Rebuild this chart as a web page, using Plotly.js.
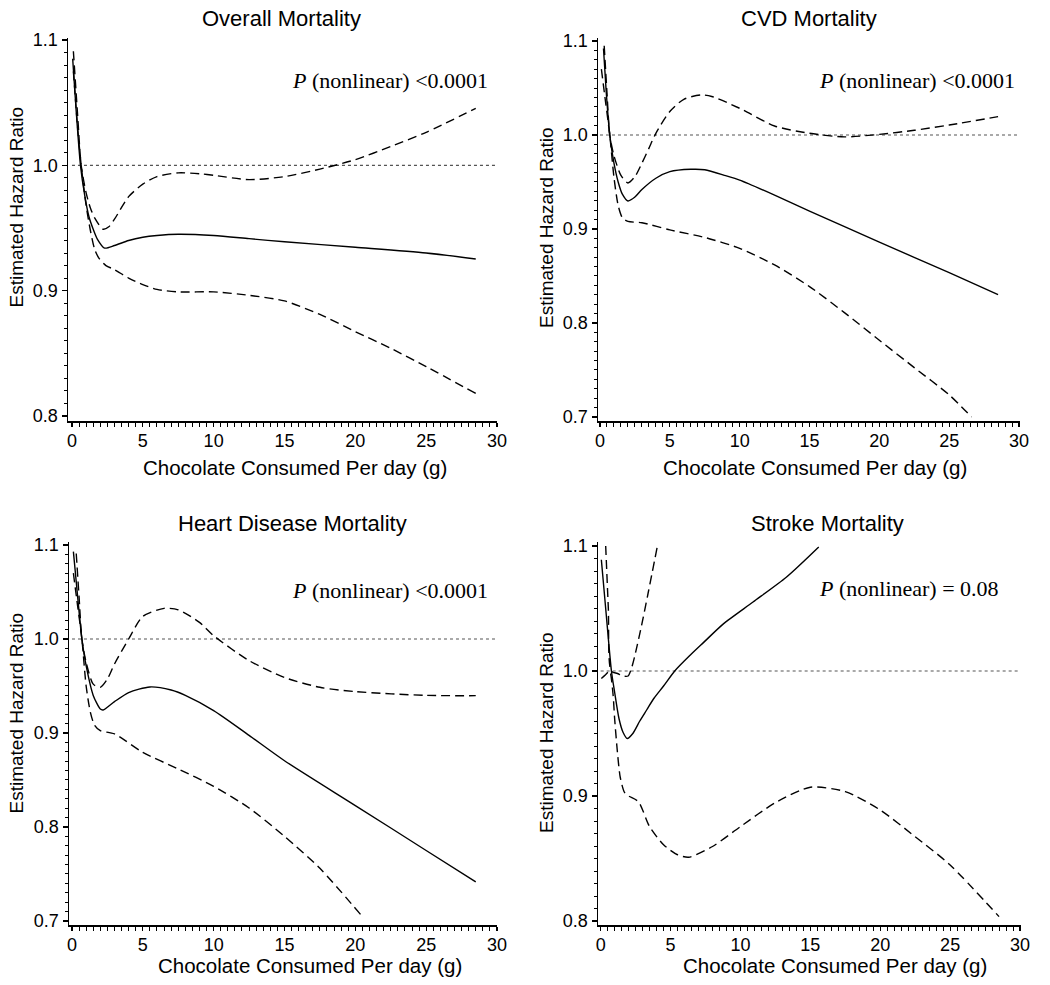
<!DOCTYPE html>
<html>
<head>
<meta charset="utf-8">
<script src="https://cdn.plot.ly/plotly-3.0.1.min.js"></script>
<style>
html,body{margin:0;padding:0;background:#fff;}
#chart{width:1050px;height:985px;}
</style>
</head>
<body>
<div id="chart"></div>
<script>
// ---------- Data ----------
const panelTitles = ["Overall Mortality", "CVD Mortality", "Heart Disease Mortality", "Stroke Mortality"];
const pValueLabels = ["<i>P</i> (nonlinear) &lt;0.0001", "<i>P</i> (nonlinear) &lt;0.0001", "<i>P</i> (nonlinear) &lt;0.0001", "<i>P</i> (nonlinear) = 0.08"];
const xAxisLabel = "Chocolate Consumed Per day (g)";
const yAxisLabel = "Estimated Hazard Ratio";
const xTickVals = [0, 5, 10, 15, 20, 25, 30];
const refX = [0, 30];
const refY = [1, 1];

// Overall mortality
const overallX = [0.05, 0.3, 0.6, 0.9, 1.2, 1.5, 1.8, 2.3, 3, 4, 5, 6, 7.5, 10, 12.5, 15, 20, 25, 28.5];
const overallHR = [1.085, 1.043, 1.0, 0.976, 0.959, 0.949, 0.941, 0.934, 0.936, 0.940, 0.9426, 0.944, 0.945, 0.944, 0.9415, 0.939, 0.9346, 0.930, 0.9253];
const overallUpperX = [0.1, 0.4, 0.65, 1.0, 1.3, 1.6, 2.2, 2.6, 3, 4, 5, 6, 7.5, 9, 10, 12.5, 15, 17.5, 20, 22.5, 25, 28.5];
const overallUpper = [1.091, 1.04, 1.0, 0.978, 0.966, 0.958, 0.949, 0.951, 0.957, 0.975, 0.985, 0.991, 0.994, 0.9933, 0.992, 0.9886, 0.991, 0.997, 1.0045, 1.015, 1.0263, 1.0455];
const overallLowerX = [0.1, 0.4, 0.65, 1.0, 1.3, 1.6, 1.9, 2.4, 3, 4, 5, 6, 7.5, 10, 12.5, 15, 17.5, 20, 22.5, 25, 28.5];
const overallLower = [1.075, 1.03, 1.0, 0.968, 0.948, 0.933, 0.926, 0.920, 0.9168, 0.910, 0.9048, 0.901, 0.899, 0.899, 0.8963, 0.8918, 0.881, 0.8673, 0.854, 0.8394, 0.818];

// CVD mortality
const cvdX = [0.25, 0.45, 0.7, 1.0, 1.3, 1.6, 2.0, 2.5, 3, 4, 5, 6.5, 7.5, 9, 10, 12.5, 15, 20, 25, 28.5];
const cvdHR = [1.092, 1.045, 1.0, 0.970, 0.950, 0.937, 0.9298, 0.934, 0.942, 0.954, 0.961, 0.9635, 0.963, 0.9567, 0.952, 0.936, 0.919, 0.886, 0.8535, 0.8301];
const cvdUpperX = [0.3, 0.5, 0.7, 1.0, 1.5, 2.0, 2.5, 3, 3.5, 4, 5, 6, 7.2, 8, 10, 12.5, 15, 17.5, 20, 22.5, 25, 28.5];
const cvdUpper = [1.095, 1.045, 1.0, 0.978, 0.957, 0.949, 0.9557, 0.970, 0.9858, 1.0018, 1.025, 1.038, 1.0426, 1.041, 1.0284, 1.0096, 1.0018, 0.998, 1.0007, 1.005, 1.0106, 1.0195];
const cvdLowerX = [0.1, 0.4, 0.7, 1.0, 1.3, 1.6, 2.0, 3, 5, 7.5, 10, 12.5, 15, 17.5, 20, 22.5, 25, 26.6];
const cvdLower = [1.07, 1.035, 1.0, 0.955, 0.925, 0.912, 0.908, 0.9067, 0.899, 0.891, 0.8794, 0.8617, 0.8387, 0.811, 0.7816, 0.7525, 0.7235, 0.70];

// Heart disease mortality
const heartX = [0.1, 0.4, 0.7, 1.0, 1.5, 2.0, 2.2, 3, 4, 5.5, 7, 8, 10, 12.5, 15, 20, 25, 28.5];
const heartHR = [1.093, 1.045, 1.0, 0.9716, 0.940, 0.9255, 0.9245, 0.9333, 0.943, 0.949, 0.9457, 0.940, 0.9238, 0.8975, 0.8705, 0.8228, 0.775, 0.7415];
const heartUpperX = [0.3, 0.5, 0.7, 1.0, 1.5, 2.0, 2.5, 3, 4, 5, 6.5, 7.5, 9, 10, 12.5, 15, 17.5, 20, 25, 28.5];
const heartUpper = [1.091, 1.045, 1.0, 0.975, 0.952, 0.9486, 0.9574, 0.9734, 1.0, 1.024, 1.0326, 1.031, 1.0177, 1.0035, 0.977, 0.959, 0.9486, 0.944, 0.940, 0.9397];
const heartLowerX = [0.1, 0.4, 0.7, 1.0, 1.3, 1.6, 2.0, 3, 5, 7.5, 10, 12.5, 15, 17.5, 20.5];
const heartLower = [1.07, 1.035, 1.0, 0.95, 0.922, 0.908, 0.9025, 0.899, 0.8794, 0.8617, 0.8433, 0.8202, 0.790, 0.756, 0.7046];

// Stroke mortality
const strokeX = [0.05, 0.4, 0.77, 1.0, 1.31, 1.6, 1.9, 2.3, 2.8, 3.3, 3.8, 4.5, 5.3, 6.4, 7.35, 8.8, 10.9, 13.3, 15.6];
const strokeHR = [1.089, 1.045, 1.0, 0.983, 0.962, 0.951, 0.946, 0.950, 0.960, 0.969, 0.978, 0.988, 1.0, 1.0126, 1.0227, 1.0379, 1.0552, 1.0752, 1.0992];
const strokeUpperX = [0.36, 0.55, 0.75, 1.2, 1.6, 1.96, 2.2, 2.43, 2.9, 3.39, 4.06];
const strokeUpper = [1.1, 1.05, 1.0, 0.998, 0.996, 0.996, 1.002, 1.0115, 1.035, 1.062, 1.1];
const strokeLowerX = [0.05, 0.35, 0.64, 0.88, 1.0, 1.2, 1.4, 1.7, 2.0, 2.7, 3.5, 4.5, 5.5, 6.3, 8, 10, 12.5, 15, 17.5, 20, 22.5, 25, 28.5];
const strokeLower = [0.994, 0.997, 1.0, 0.982, 0.962, 0.935, 0.915, 0.903, 0.900, 0.8955, 0.8755, 0.861, 0.853, 0.851, 0.8596, 0.8755, 0.8947, 0.907, 0.9035, 0.8888, 0.8674, 0.8448, 0.8035];

// ---------- Build ----------
const W = 1050, H = 985;
const px = v => v / W;
const py = v => 1 - v / H;

const panels = [
  {est:[overallX, overallHR], up:[overallUpperX, overallUpper], lo:[overallLowerX, overallLower]},
  {est:[cvdX, cvdHR], up:[cvdUpperX, cvdUpper], lo:[cvdLowerX, cvdLower]},
  {est:[heartX, heartHR], up:[heartUpperX, heartUpper], lo:[heartLowerX, heartLower]},
  {est:[strokeX, strokeHR], up:[strokeUpperX, strokeUpper], lo:[strokeLowerX, strokeLower]}
];

// plot geometry (pixels) for each panel
const geom = [
  {l:68, r:497, t:38, b:421, xr:[-0.28, 30.0], yr:[0.796, 1.1016]},
  {l:598, r:1020, t:38, b:421, xr:[-0.143, 30.07], yr:[0.6957, 1.1032]},
  {l:69, r:497, t:542, b:925, xr:[-0.21, 30.0], yr:[0.6957, 1.1032]},
  {l:598, r:1021, t:542, b:925, xr:[-0.19, 30.07], yr:[0.7968, 1.1032]}
];

const tickFont = {family: "Liberation Sans, Arial, sans-serif", size: 18, color: "#000"};
const traces = [];
const layout = {
  width: W, height: H,
  margin: {l:0, r:0, t:0, b:0},
  paper_bgcolor: "#fff", plot_bgcolor: "#fff",
  showlegend: false,
  annotations: []
};

const solidLine = {color: "#000", width: 1.4, shape: "spline", smoothing: 0.7};
const dashLine = {color: "#000", width: 1.4, dash: "9px,5px", shape: "spline", smoothing: 0.7};

panels.forEach((p, i) => {
  const n = i + 1;
  const xa = n === 1 ? "x" : "x" + n;
  const ya = n === 1 ? "y" : "y" + n;
  traces.push({x: refX, y: refY, xaxis: xa, yaxis: ya, mode: "lines", line: {color: "#555", width: 1.2, dash: "dot"}, hoverinfo: "skip"});
  traces.push({x: p.up[0], y: p.up[1], xaxis: xa, yaxis: ya, mode: "lines", line: dashLine});
  traces.push({x: p.lo[0], y: p.lo[1], xaxis: xa, yaxis: ya, mode: "lines", line: dashLine});
  traces.push({x: p.est[0], y: p.est[1], xaxis: xa, yaxis: ya, mode: "lines", line: solidLine});

  const g = geom[i];
  const xKey = n === 1 ? "xaxis" : "xaxis" + n;
  const yKey = n === 1 ? "yaxis" : "yaxis" + n;
  layout[xKey] = {
    domain: [px(g.l), px(g.r)], anchor: ya, range: g.xr,
    showgrid: false, zeroline: false, showline: true, linecolor: "#000", linewidth: 1.5,
    tickmode: "array", tickvals: xTickVals, ticks: "outside", ticklen: 4, tickwidth: 1.2, tickcolor: "#000",
    tickfont: tickFont, ticklabelstandoff: -1,
    minor: {dtick: 0.5, tick0: 0, ticks: "outside", ticklen: 4, tickwidth: 1, tickcolor: "#000", showgrid: false}
  };
  layout[yKey] = {
    domain: [1 - g.b / H, 1 - g.t / H], anchor: xa, range: g.yr,
    showgrid: false, zeroline: false, showline: true, linecolor: "#000", linewidth: 1.5,
    dtick: 0.1, tick0: 0, tickformat: ".1f", ticks: "outside", ticklen: 5, tickwidth: 1.2, tickcolor: "#000",
    tickfont: tickFont,
    minor: {dtick: 0.01, tick0: 0, ticks: "outside", ticklen: 3, tickwidth: 1, tickcolor: "#000", showgrid: false}
  };
});

// text positions (pixels)
const titlePos = [[281, 18], [809, 18], [292, 523], [827, 523]];
const pPos = [[290, 80], [817, 80], [290, 590], [817, 588]];
const xtPos = [[295, 468], [815, 468], [310, 965], [835, 965]];
const ytPos = [[15.5, 207], [546, 228], [15.5, 713], [546, 733]];

for (let i = 0; i < 4; i++) {
  layout.annotations.push({text: panelTitles[i], xref: "paper", yref: "paper", x: px(titlePos[i][0]), y: py(titlePos[i][1]),
    xanchor: "center", yanchor: "middle", showarrow: false,
    font: {family: "Liberation Sans, Arial, sans-serif", size: 22, color: "#000"}});
  layout.annotations.push({text: pValueLabels[i], xref: "paper", yref: "paper", x: px(pPos[i][0]), y: py(pPos[i][1]),
    xanchor: "left", yanchor: "middle", showarrow: false,
    font: {family: "Liberation Serif, Times New Roman, serif", size: 22, color: "#000"}});
  layout.annotations.push({text: xAxisLabel, xref: "paper", yref: "paper", x: px(xtPos[i][0]), y: py(xtPos[i][1]),
    xanchor: "center", yanchor: "middle", showarrow: false,
    font: {family: "Liberation Sans, Arial, sans-serif", size: 20.5, color: "#000"}});
  layout.annotations.push({text: yAxisLabel, xref: "paper", yref: "paper", x: px(ytPos[i][0]), y: py(ytPos[i][1]),
    xanchor: "center", yanchor: "middle", showarrow: false, textangle: -90,
    font: {family: "Liberation Sans, Arial, sans-serif", size: 19, color: "#000"}});
}

Plotly.newPlot("chart", traces, layout, {staticPlot: true, displayModeBar: false});
</script>
</body>
</html>
